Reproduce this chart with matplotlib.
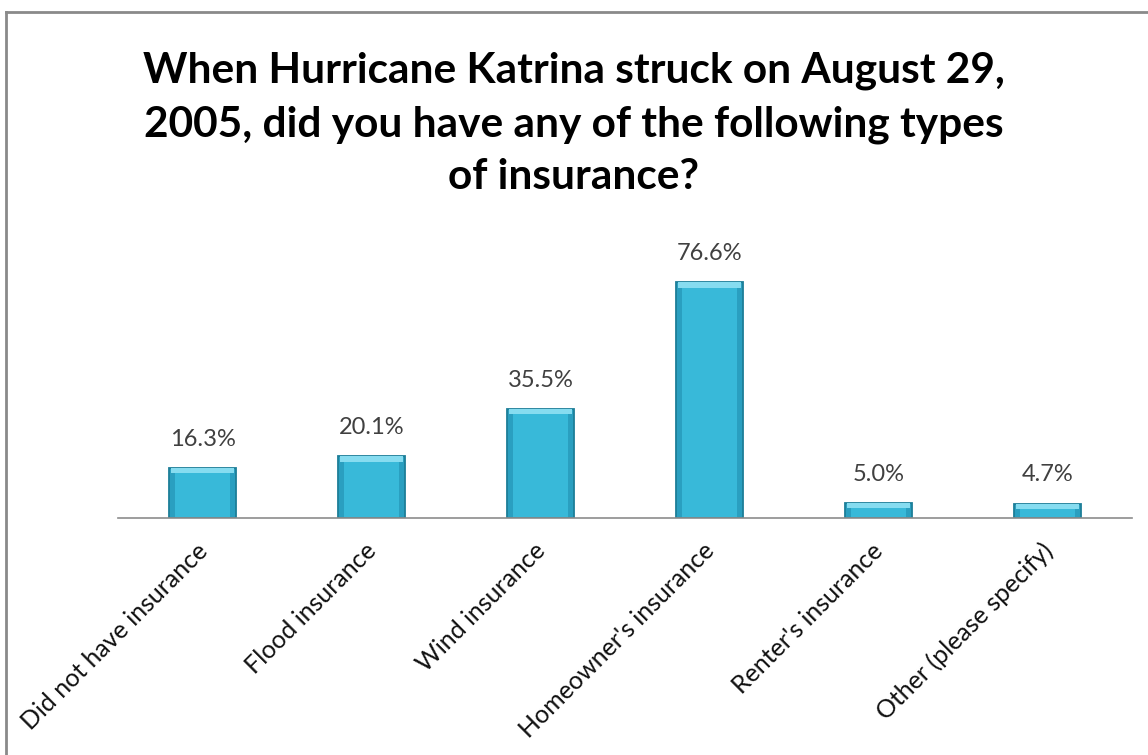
import matplotlib
matplotlib.use("Agg")
import matplotlib.pyplot as plt
import matplotlib.transforms as mtransforms

categories = [
    "Did not have insurance",
    "Flood insurance",
    "Wind insurance",
    "Homeowner's insurance",
    "Renter's insurance",
    "Other (please specify)",
]
values = [16.3, 20.1, 35.5, 76.6, 5.0, 4.7]
value_labels = ["16.3%", "20.1%", "35.5%", "76.6%", "5.0%", "4.7%"]
title = ("When Hurricane Katrina struck on August 29,\n"
         "2005, did you have any of the following types\n"
         "of insurance?")

W, H = 1148, 755
fig = plt.figure(figsize=(W / 100, H / 100), dpi=100)
fig.patch.set_facecolor("white")

# frame lines along the top and left edge of the chart area
fig.add_artist(plt.Line2D([6 / W, 6 / W], [0, 1 - 12 / H], transform=fig.transFigure,
                          color="#8a8a8a", lw=2))
fig.add_artist(plt.Line2D([6 / W, 1], [1 - 12 / H, 1 - 12 / H], transform=fig.transFigure,
                          color="#8a8a8a", lw=2))

ax_left, ax_right = 118 / W, 1132 / W
ax_bottom, ax_top = 1 - 518 / H, 1 - 272 / H
ax = fig.add_axes([ax_left, ax_bottom, ax_right - ax_left, ax_top - ax_bottom])
ax.set_xlim(-0.5, len(categories) - 0.5)
ax.set_ylim(0, 80)

x = list(range(len(categories)))
bw = 0.40
ax.bar(x, values, width=bw, color="#2a9fc0", edgecolor="#1d7e98", linewidth=1.3, zorder=2)

# bevelled face: bright top strip, lighter inner panel
for xi, v in zip(x, values):
    strip = min(1.8, v * 0.4)
    ax.bar(xi, strip, bottom=v - strip, width=bw * 0.92, color="#86dcf0",
           linewidth=0, zorder=3)
    ax.bar(xi, v - strip - 0.3, bottom=0.3, width=bw * 0.82, color="#38b9d9",
           linewidth=0, zorder=3)

for xi, v, lab in zip(x, values, value_labels):
    ax.annotate(lab, (xi, v), xytext=(0, 13), textcoords="offset points",
                ha="center", va="bottom", fontsize=17, color="#404040",
                family="Lato")

for s in ["top", "right", "left"]:
    ax.spines[s].set_visible(False)
ax.spines["bottom"].set_color("#8c8c8c")
ax.spines["bottom"].set_linewidth(1.2)
ax.set_yticks([])
ax.set_xticks(x)
ax.set_xticklabels(categories, rotation=45, ha="right", va="top",
                   rotation_mode="anchor", fontsize=18, family="Lato", color="#111111")
ax.tick_params(axis="x", length=0, pad=15)
shift = mtransforms.ScaledTranslation(-7 / 100, 0, fig.dpi_scale_trans)
for lbl in ax.get_xticklabels():
    lbl.set_transform(lbl.get_transform() + shift)
ax.patch.set_alpha(0)

fig.text(0.5, 1 - 124 / H, title, ha="center", va="center", fontsize=30.5,
         fontweight="bold", family="Lato", linespacing=1.48, color="#000000")

fig.savefig("out.png", dpi=100, facecolor="white")
